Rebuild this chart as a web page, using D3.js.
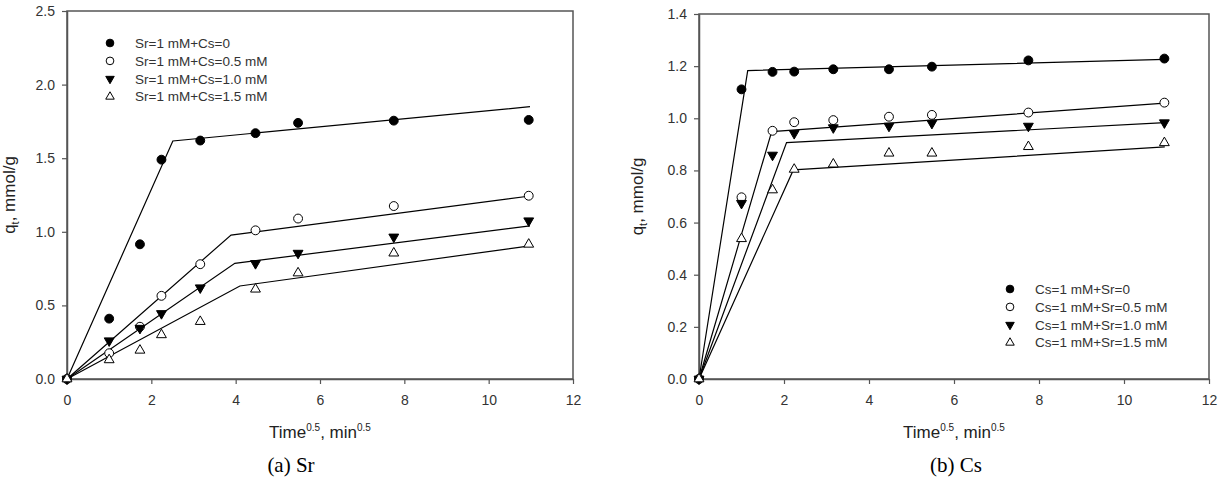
<!DOCTYPE html>
<html>
<head>
<meta charset="utf-8">
<script src="https://cdn.jsdelivr.net/npm/d3@7"></script>
<style>
  body { margin: 0; background: #fff; }
  text { font-family: "Liberation Sans", Arial, sans-serif; }
</style>
</head>
<body>
<svg id="chart" width="1219" height="477"></svg>
<script>
// sqrt(time) of the sampling points (1, 3, 5, 10, 20, 30, 60, 120 min)
var sqrtTime = [0, 1, 1.73, 2.24, 3.16, 4.47, 5.48, 7.75, 10.95];
var xTicks = [0, 2, 4, 6, 8, 10, 12];

// (a) Sr uptake
var srLabels = ["Sr=1 mM+Cs=0", "Sr=1 mM+Cs=0.5 mM", "Sr=1 mM+Cs=1.0 mM", "Sr=1 mM+Cs=1.5 mM"];
var srValues = [
  [0, 0.41, 0.915, 1.49, 1.62, 1.67, 1.74, 1.755, 1.76],
  [0, 0.175, 0.355, 0.565, 0.78, 1.01, 1.09, 1.175, 1.245],
  [0, 0.26, 0.345, 0.445, 0.62, 0.785, 0.855, 0.965, 1.075],
  [0, 0.13, 0.195, 0.30, 0.39, 0.61, 0.72, 0.855, 0.915]
];
// intraparticle diffusion fits: [x, y] break points
var srFits = [
  [[0, 0], [2.51, 1.617], [10.98, 1.85]],
  [[0, 0], [3.89, 0.978], [10.98, 1.243]],
  [[0, 0], [3.98, 0.786], [10.98, 1.04]],
  [[0, 0], [4.1, 0.632], [10.98, 0.905]]
];
var srTicks = [0, 0.5, 1.0, 1.5, 2.0, 2.5];

// (b) Cs uptake
var csLabels = ["Cs=1 mM+Sr=0", "Cs=1 mM+Sr=0.5 mM", "Cs=1 mM+Sr=1.0 mM", "Cs=1 mM+Sr=1.5 mM"];
var csValues = [
  [0, 1.111, 1.178, 1.179, 1.188, 1.188, 1.198, 1.222, 1.229],
  [0, 0.697, 0.952, 0.985, 0.993, 1.006, 1.013, 1.022, 1.06],
  [0, 0.674, 0.859, 0.942, 0.964, 0.970, 0.981, 0.970, 0.983],
  [0, 0.538, 0.725, 0.804, 0.824, 0.866, 0.866, 0.891, 0.906]
];
var csFits = [
  [[0, 0], [1.146, 1.183], [10.96, 1.226]],
  [[0, 0], [1.71, 0.949], [10.96, 1.058]],
  [[0, 0], [2.06, 0.907], [10.96, 0.983]],
  [[0, 0], [2.22, 0.802], [10.96, 0.89]]
];
var csTicks = [0, 0.2, 0.4, 0.6, 0.8, 1.0, 1.2, 1.4];

var svg = d3.select("#chart");

var markers = [
  {type: d3.symbolCircle, size: 62, fill: "#000", rotate: 0},
  {type: d3.symbolCircle, size: 62, fill: "#fff", rotate: 0},
  {type: d3.symbolTriangle, size: 42, fill: "#000", rotate: 180},
  {type: d3.symbolTriangle, size: 42, fill: "#fff", rotate: 0}
];

function drawMarker(sel, i, scale) {
  var m = markers[i];
  sel.attr("d", d3.symbol().type(m.type).size(m.size * (scale || 1)))
    .attr("fill", m.fill)
    .attr("stroke", "#000")
    .attr("stroke-width", 1);
}

function drawPanel(cfg) {
  var g = svg.append("g");

  var x = d3.scaleLinear().domain([0, 12]).range([cfg.left, cfg.right]),
    y = d3.scaleLinear().domain([0, cfg.ticks[cfg.ticks.length - 1]]).range([cfg.bottom, cfg.top]);

  g.append("rect")
    .attr("x", cfg.left)
    .attr("y", cfg.top)
    .attr("width", cfg.right - cfg.left)
    .attr("height", cfg.bottom - cfg.top)
    .attr("fill", "none")
    .attr("stroke", "#555")
    .attr("stroke-width", 1.5);

  var xAxis = g.append("g")
    .attr("transform", "translate(0," + cfg.bottom + ")")
    .call(d3.axisBottom(x).tickValues(xTicks).tickSize(5).tickSizeOuter(0).tickPadding(11).tickFormat(d3.format("d")));

  var yAxis = g.append("g")
    .attr("transform", "translate(" + cfg.left + ",0)")
    .call(d3.axisLeft(y).tickValues(cfg.ticks).tickSize(5).tickSizeOuter(0).tickPadding(7).tickFormat(d3.format(".1f")));

  [xAxis, yAxis].forEach(function (a) {
    a.select(".domain").attr("stroke", "#555").attr("stroke-width", 1.5);
    a.selectAll(".tick line").attr("stroke", "#555").attr("stroke-width", 1.2);
    a.selectAll(".tick text").attr("fill", "#333").style("font-size", "14px");
  });

  var line = d3.line()
    .x(function (d) { return x(d[0]); })
    .y(function (d) { return y(d[1]); });

  g.selectAll(".fit")
    .data(cfg.fits)
    .enter().append("path")
      .attr("class", "fit")
      .attr("d", line)
      .attr("fill", "none")
      .attr("stroke", "#000")
      .attr("stroke-width", 1.2);

  cfg.values.forEach(function (vals, i) {
    g.selectAll(".pt" + i)
      .data(vals)
      .enter().append("path")
        .attr("class", "pt" + i)
        .attr("transform", function (d, j) {
          return "translate(" + x(sqrtTime[j]) + "," + y(d) + ") rotate(" + markers[i].rotate + ")";
        })
        .call(drawMarker, i);
  });

  // legend
  var leg = g.selectAll(".leg")
    .data(cfg.labels)
    .enter().append("g")
      .attr("class", "leg")
      .attr("transform", function (d, i) { return "translate(" + cfg.legX + "," + (cfg.legY + i * 17.9) + ")"; });

  leg.append("path")
    .attr("transform", function (d, i) { return "rotate(" + markers[i].rotate + ")"; })
    .each(function (d, i) { d3.select(this).call(drawMarker, i, 0.75); });

  leg.append("text")
    .attr("x", 25)
    .attr("dy", "0.35em")
    .attr("fill", "#333")
    .style("font-size", "13.5px")
    .text(function (d) { return d; });

  // x title
  var xt = g.append("text")
    .attr("x", (cfg.left + cfg.right) / 2)
    .attr("y", cfg.bottom + 59)
    .attr("text-anchor", "middle")
    .attr("fill", "#222")
    .style("font-size", "17px");
  xt.append("tspan").text("Time");
  xt.append("tspan").attr("dy", -7).style("font-size", "10px").text("0.5");
  xt.append("tspan").attr("dy", 7).text(", min");
  xt.append("tspan").attr("dy", -7).style("font-size", "10px").text("0.5");

  // y title
  var yt = g.append("text")
    .attr("transform", "translate(" + cfg.yTitleX + "," + ((cfg.top + cfg.bottom) / 2) + ") rotate(-90)")
    .attr("text-anchor", "middle")
    .attr("fill", "#222")
    .style("font-size", "17px");
  yt.append("tspan").text("q");
  yt.append("tspan").attr("dy", 4).style("font-size", "11px").text("t");
  yt.append("tspan").attr("dy", -4).text(", mmol/g");

  // caption
  g.append("text")
    .attr("x", cfg.captionX)
    .attr("y", 472)
    .attr("text-anchor", "middle")
    .attr("fill", "#000")
    .style("font-family", "'Liberation Serif', 'Times New Roman', serif")
    .style("font-size", "21px")
    .text(cfg.caption);
}

drawPanel({
  left: 67, right: 573, top: 11, bottom: 379,
  ticks: srTicks, values: srValues, fits: srFits, labels: srLabels,
  legX: 110, legY: 43, yTitleX: 15, caption: "(a) Sr", captionX: 291
});

drawPanel({
  left: 699, right: 1209, top: 14, bottom: 379,
  ticks: csTicks, values: csValues, fits: csFits, labels: csLabels,
  legX: 1010, legY: 289, yTitleX: 643, caption: "(b) Cs", captionX: 956
});
</script>
</body>
</html>
